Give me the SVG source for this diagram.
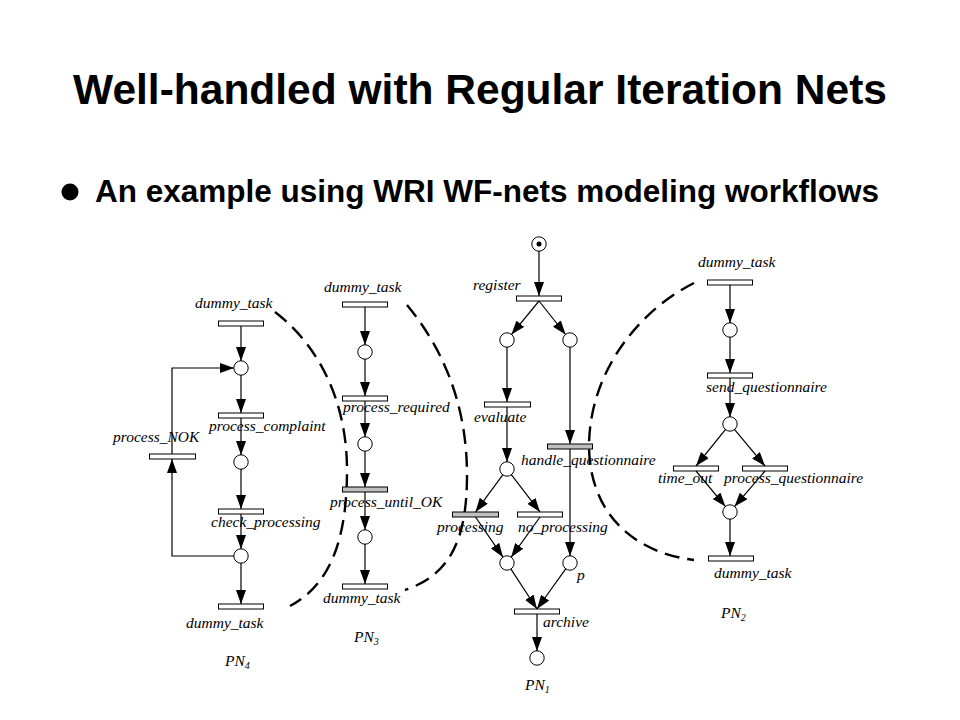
<svg xmlns="http://www.w3.org/2000/svg" width="960" height="720" viewBox="0 0 960 720">
<style>
.t{fill:#fff;stroke:#000;stroke-width:1}
.g{fill:#c0c0c0;stroke:#000;stroke-width:1}
.p{fill:#fff;stroke:#000;stroke-width:1}
.a{fill:none;stroke:#000;stroke-width:1.2;marker-end:url(#ah)}
.d{fill:none;stroke:#000;stroke-width:2.4;stroke-dasharray:15 8}
.l{font-family:"Liberation Serif","Times New Roman",serif;font-style:italic;font-size:15.5px;fill:#000}
.h{font-family:"Liberation Sans",Arial,sans-serif;font-weight:bold;fill:#000}
</style>
<defs>
<marker id="ah" markerUnits="userSpaceOnUse" markerWidth="14" markerHeight="10" refX="14" refY="5" orient="auto">
<path d="M0,0 L14,5 L0,10 z" fill="#000"/>
</marker>
</defs>
<rect width="960" height="720" fill="#fff"/>
<text class="h" x="480" y="104" font-size="42.5" text-anchor="middle">Well-handled with Regular Iteration Nets</text>
<circle cx="70" cy="192" r="8.5" fill="#000"/>
<text class="h" x="95" y="202" font-size="31.5">An example using WRI WF-nets modeling workflows</text>

<g id="boundaries">
<path class="d" d="M275,312 C318,345 347,400 347,470 C347,540 330,585 290,606"/>
<path class="d" d="M407,305 C440,345 467,400 467,475 C467,540 450,575 405,590"/>
<path class="d" d="M694,283 C640,310 590,370 589,445 C589,510 630,552 694,560"/>
</g>

<g id="PN4">
<rect class="t" x="218.5" y="321" width="45" height="5"/>
<circle class="p" cx="241" cy="368" r="7.2"/>
<rect class="t" x="218.5" y="413" width="45" height="5"/>
<circle class="p" cx="241" cy="462" r="7.2"/>
<rect class="t" x="218.5" y="509" width="45" height="5"/>
<circle class="p" cx="241" cy="556" r="7.2"/>
<rect class="t" x="218.5" y="604" width="45" height="5"/>
<rect class="t" x="149.5" y="454" width="46" height="5"/>
<text class="l" x="195" y="308">dummy_task</text>
<text class="l" x="209" y="431">process_complaint</text>
<text class="l" x="113" y="442">process_NOK</text>
<text class="l" x="211" y="527">check_processing</text>
<text class="l" x="186" y="628">dummy_task</text>
<text class="l" x="225" y="666">PN<tspan font-size="10" dy="3">4</tspan></text>
</g>

<g id="PN3">
<rect class="t" x="342.5" y="302" width="45" height="5"/>
<circle class="p" cx="365" cy="352" r="7.2"/>
<rect class="t" x="342.5" y="396" width="45" height="5"/>
<circle class="p" cx="365" cy="444" r="7.2"/>
<rect class="g" x="342.5" y="487" width="45" height="5"/>
<circle class="p" cx="365" cy="537" r="7.2"/>
<rect class="t" x="342.5" y="584" width="45" height="5"/>
<text class="l" x="324" y="292">dummy_task</text>
<text class="l" x="343" y="412">process_required</text>
<text class="l" x="330" y="507">process_until_OK</text>
<text class="l" x="323" y="603">dummy_task</text>
<text class="l" x="354" y="642">PN<tspan font-size="10" dy="3">3</tspan></text>
</g>

<g id="PN1">
<circle class="p" cx="539" cy="244" r="7.2"/>
<circle cx="539" cy="244" r="2.5" fill="#000"/>
<rect class="t" x="516.5" y="296" width="45" height="5"/>
<circle class="p" cx="507" cy="340" r="7.2"/>
<circle class="p" cx="570" cy="340" r="7.2"/>
<rect class="t" x="484.5" y="402" width="46" height="5"/>
<circle class="p" cx="507" cy="469" r="7.2"/>
<rect class="g" x="547.5" y="444" width="45" height="5"/>
<rect class="g" x="452.5" y="512" width="46" height="5"/>
<rect class="t" x="517.5" y="512" width="45" height="5"/>
<circle class="p" cx="507" cy="563" r="7.2"/>
<circle class="p" cx="570" cy="563" r="7.2"/>
<rect class="t" x="514.5" y="609" width="45" height="5"/>
<circle class="p" cx="537" cy="658" r="7.2"/>
<text class="l" x="473" y="290">register</text>
<text class="l" x="474" y="422">evaluate</text>
<text class="l" x="521" y="465">handle_questionnaire</text>
<text class="l" x="437" y="532">processing</text>
<text class="l" x="518" y="532">no_processing</text>
<text class="l" x="577" y="580">p</text>
<text class="l" x="543" y="627">archive</text>
<text class="l" x="525" y="690">PN<tspan font-size="10" dy="3">1</tspan></text>
</g>

<g id="PN2">
<rect class="t" x="707.5" y="280" width="45" height="5"/>
<circle class="p" cx="730" cy="330" r="7.2"/>
<rect class="t" x="707.5" y="373" width="45" height="5"/>
<circle class="p" cx="730" cy="424" r="7.2"/>
<rect class="t" x="673.5" y="466" width="45" height="5"/>
<rect class="t" x="742.5" y="466" width="45" height="5"/>
<circle class="p" cx="730" cy="512" r="7.2"/>
<rect class="t" x="708.5" y="556" width="45" height="5"/>
<text class="l" x="698" y="267">dummy_task</text>
<text class="l" x="706" y="392">send_questionnaire</text>
<text class="l" x="658" y="483">time_out</text>
<text class="l" x="724" y="483">process_questionnaire</text>
<text class="l" x="714" y="578">dummy_task</text>
<text class="l" x="721" y="618">PN<tspan font-size="10" dy="3">2</tspan></text>
</g>

<g id="connectors">
<path class="a" d="M241,326 V361"/>
<path class="a" d="M241,375 V413"/>
<path class="a" d="M241,418 V455"/>
<path class="a" d="M241,469 V509"/>
<path class="a" d="M241,514 V549"/>
<path class="a" d="M241,563 V604"/>
<path class="a" d="M234,556 H172 V459"/>
<path class="a" d="M172,454 V368 H234"/>

<path class="a" d="M365,307 V345"/>
<path class="a" d="M365,359 V396"/>
<path class="a" d="M365,401 V437"/>
<path class="a" d="M365,451 V487"/>
<path class="a" d="M365,492 V530"/>
<path class="a" d="M365,544 V584"/>

<path class="a" d="M539,251 V296"/>
<path class="a" d="M539,301 L511.4,334.6"/>
<path class="a" d="M539,301 L565.6,334.5"/>
<path class="a" d="M507,347 V402"/>
<path class="a" d="M570,347 V444"/>
<path class="a" d="M507,407 V462"/>
<path class="a" d="M570,449 V556"/>
<path class="a" d="M502.9,474.6 L475.5,512"/>
<path class="a" d="M511.3,474.6 L540,512"/>
<path class="a" d="M475.5,517 L503,557.2"/>
<path class="a" d="M540,517 L511.1,557.3"/>
<path class="a" d="M510.8,568.9 L537,609"/>
<path class="a" d="M565.9,568.7 L537,609"/>
<path class="a" d="M537,614 V651"/>

<path class="a" d="M730,285 V323"/>
<path class="a" d="M730,337 V373"/>
<path class="a" d="M730,378 V417"/>
<path class="a" d="M725.6,429.4 L696,466"/>
<path class="a" d="M734.4,429.4 L765,466"/>
<path class="a" d="M696,471 L725.5,506.6"/>
<path class="a" d="M765,471 L734.5,506.6"/>
<path class="a" d="M730,519 V556"/>
</g>
</svg>
